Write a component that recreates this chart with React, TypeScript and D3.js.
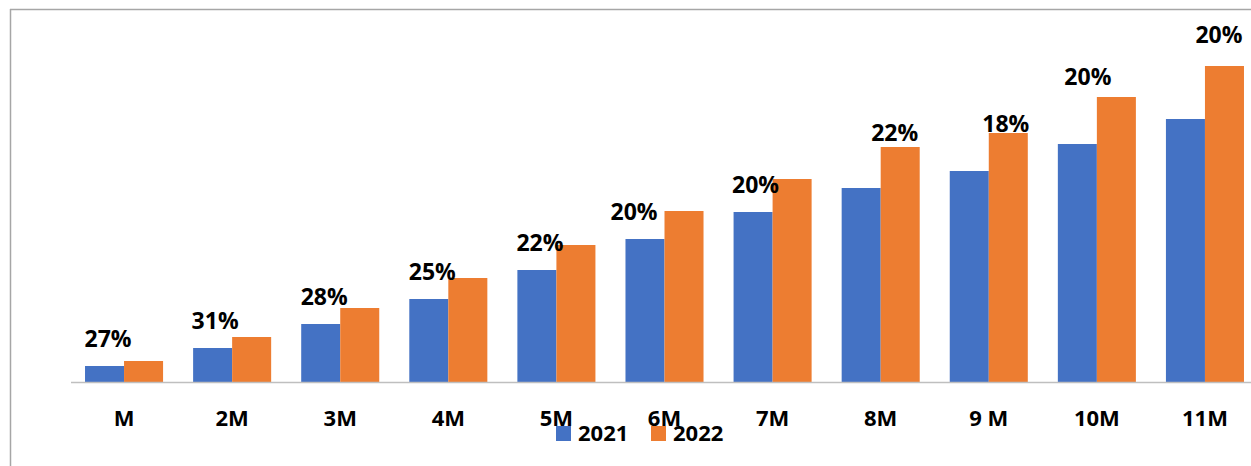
import React from "react";
import * as d3 from "d3";

const categories = ["M", "2M", "3M", "4M", "5M", "6M", "7M", "8M", "9 M", "10M", "11M"];
const series = ["2021", "2022"];
const values2021 = [16, 34, 58, 83, 112, 143, 170, 194, 211, 238, 263];
const values2022 = [21, 45, 74, 104, 137, 171, 203, 235, 249, 285, 316];
const growthLabels = ["27%", "31%", "28%", "25%", "22%", "20%", "20%", "22%", "18%", "20%", "20%"];

// manual label nudges (styling, not data)
const labelDx = [-16, -17, -16, -16, -16.5, -30.5, -17, 14, 17, -9, 14];
const labelDy = [-6, 0, 5, 10, 14, 17, 22, 2, 7, -4, -15];

const colors: Record<string, string> = { "2021": "#4472C4", "2022": "#ED7D31" };
const W = 1251;
const H = 466;
const FONT = "'Open Sans', 'Noto Sans', sans-serif";

export default function App() {
  const x = d3
    .scaleBand<string>()
    .domain(categories)
    .range([70, 1259])
    .paddingInner(0.278)
    .paddingOuter(0.139);
  const xs = d3.scaleBand<string>().domain(series).range([0, x.bandwidth()]);
  const y = d3.scaleLinear().domain([0, 316]).range([382, 66]);
  const vals: Record<string, number[]> = { "2021": values2021, "2022": values2022 };

  return (
    <svg
      width={W}
      height={H}
      style={{ position: "absolute", left: 0, top: 0, background: "#fff" }}
      fontFamily={FONT}
    >
      <rect x={0} y={0} width={W} height={H} fill="#fff" />
      <line x1={10} y1={9.5} x2={W} y2={9.5} stroke="#a6a6a6" strokeWidth={1.5} />
      <line x1={10.5} y1={9} x2={10.5} y2={H} stroke="#a6a6a6" strokeWidth={1.5} />
      {categories.map((c, i) => (
        <g key={c}>
          {series.map((s) => (
            <rect
              key={s}
              x={(x(c) ?? 0) + (xs(s) ?? 0)}
              y={y(vals[s][i])}
              width={xs.bandwidth()}
              height={y(0) - y(vals[s][i])}
              fill={colors[s]}
            />
          ))}
        </g>
      ))}
      <line x1={71} y1={382.5} x2={W} y2={382.5} stroke="#bfbfbf" strokeWidth={1.5} />
      {categories.map((c, i) => (
        <text
          key={"l" + c}
          x={(x(c) ?? 0) + x.bandwidth() / 2 + labelDx[i]}
          y={y(values2022[i]) - 8 + labelDy[i]}
          textAnchor="middle"
          fontSize={23}
          fontWeight={700}
          fill="#000"
        >
          {growthLabels[i]}
        </text>
      ))}
      {categories.map((c) => (
        <text
          key={"t" + c}
          x={(x(c) ?? 0) + x.bandwidth() / 2}
          y={426}
          textAnchor="middle"
          fontSize={22}
          fontWeight={700}
          fill="#000"
        >
          {c}
        </text>
      ))}
      {series.map((s, i) => (
        <g key={"leg" + s} transform={`translate(${556 + i * 95},426)`}>
          <rect x={0} y={0} width={15} height={15} fill={colors[s]} />
          <text x={22} y={15} fontSize={22} fontWeight={700} fill="#000">
            {s}
          </text>
        </g>
      ))}
    </svg>
  );
}
